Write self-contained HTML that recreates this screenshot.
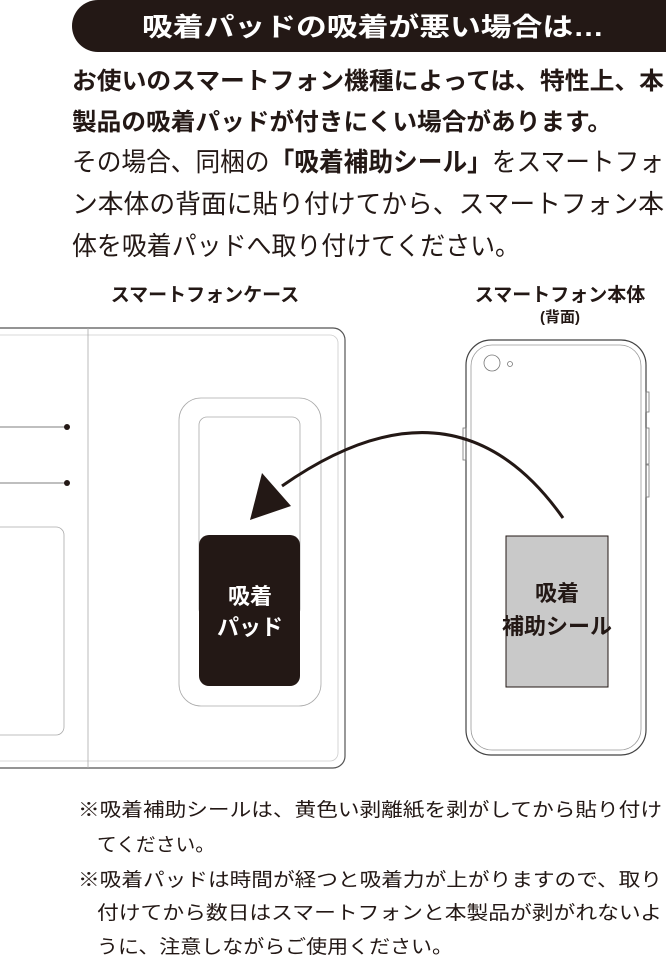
<!DOCTYPE html>
<html><head><meta charset="utf-8"><style>
html,body{margin:0;padding:0;background:#fff;}
svg{display:block;}
text{font-family:"Liberation Sans","Noto Sans CJK JP",sans-serif;fill:#231815;}
</style></head><body>
<svg width="666" height="959" viewBox="0 0 666 959" xmlns="http://www.w3.org/2000/svg">
<path d="M98,0 H680 V52 H98 A26,26 0 0 1 98,0 Z" fill="#231815"/>
<text x="142" y="36" font-size="26" font-weight="bold" style="fill:#fff" textLength="462" lengthAdjust="spacingAndGlyphs">吸着パッドの吸着が悪い場合は…</text>
<text x="72" y="89" font-size="24" font-weight="bold" textLength="592" lengthAdjust="spacingAndGlyphs">お使いのスマートフォン機種によっては、特性上、本</text>
<text x="72" y="130" font-size="24" font-weight="bold" textLength="540" lengthAdjust="spacingAndGlyphs">製品の吸着パッドが付きにくい場合があります。</text>
<text x="72" y="171" font-size="26" textLength="592" lengthAdjust="spacingAndGlyphs">その場合、同梱の<tspan font-weight="bold">「吸着補助シール」</tspan>をスマートフォ</text>
<text x="72" y="213" font-size="26" textLength="592" lengthAdjust="spacingAndGlyphs">ン本体の背面に貼り付けてから、スマートフォン本</text>
<text x="72" y="255" font-size="26" textLength="448" lengthAdjust="spacingAndGlyphs">体を吸着パッドへ取り付けてください。</text>
<text x="205" y="301" font-size="19" font-weight="bold" text-anchor="middle">スマートフォンケース</text>
<text x="560" y="301" font-size="19" font-weight="bold" text-anchor="middle">スマートフォン本体</text>
<text x="560" y="322" font-size="15" font-weight="bold" text-anchor="middle">(背面)</text>
<rect x="-20" y="328" width="365" height="440" rx="12" fill="none" stroke="#555" stroke-width="1.2"/>
<rect x="-20" y="335" width="358" height="426" rx="8" fill="none" stroke="#ccc" stroke-width="0.8"/>
<line x1="88" y1="328" x2="88" y2="768" stroke="#aaa" stroke-width="0.8"/>
<line x1="0" y1="427" x2="67" y2="427" stroke="#555" stroke-width="0.8"/>
<circle cx="67" cy="427" r="3" fill="#231815"/>
<line x1="0" y1="483" x2="67" y2="483" stroke="#555" stroke-width="0.8"/>
<circle cx="67" cy="483" r="3" fill="#231815"/>
<rect x="-20" y="527" width="84" height="208" rx="8" fill="none" stroke="#aaa" stroke-width="0.8"/>
<rect x="179" y="398" width="142" height="308" rx="22" fill="none" stroke="#aaa" stroke-width="0.8"/>
<rect x="199" y="417" width="101" height="200" rx="8" fill="none" stroke="#aaa" stroke-width="0.8"/>
<rect x="199" y="535" width="101" height="151" rx="10" fill="#231815"/>
<text x="250" y="604" font-size="22" font-weight="bold" text-anchor="middle" style="fill:#fff">吸着</text>
<text x="250" y="635" font-size="22" font-weight="bold" text-anchor="middle" style="fill:#fff">パッド</text>
<rect x="466" y="340" width="180" height="415" rx="25" fill="none" stroke="#444" stroke-width="1.2"/>
<rect x="471" y="345" width="170" height="405" rx="21" fill="none" stroke="#999" stroke-width="0.8"/>
<circle cx="492" cy="363" r="8" fill="none" stroke="#777" stroke-width="0.8"/>
<circle cx="510" cy="364" r="2.5" fill="none" stroke="#777" stroke-width="0.8"/>
<rect x="463" y="428" width="3" height="32" fill="none" stroke="#777" stroke-width="0.8"/>
<rect x="646" y="392" width="3" height="20" fill="none" stroke="#777" stroke-width="0.8"/>
<rect x="646" y="428" width="3" height="36" fill="none" stroke="#777" stroke-width="0.8"/>
<rect x="646" y="465" width="3" height="32" fill="none" stroke="#777" stroke-width="0.8"/>
<rect x="506" y="536" width="102" height="151" fill="#c9c9c9" stroke="#231815" stroke-width="1"/>
<text x="557" y="601" font-size="22" font-weight="bold" text-anchor="middle">吸着</text>
<text x="557" y="634" font-size="22" font-weight="bold" text-anchor="middle">補助シール</text>
<path d="M563,518 Q455,365 282,486" fill="none" stroke="#231815" stroke-width="3"/>
<polygon points="250,520 262,473 291,506" fill="#231815"/>
<text x="78" y="816" font-size="19" textLength="584" lengthAdjust="spacingAndGlyphs">※吸着補助シールは、黄色い剥離紙を剥がしてから貼り付け</text>
<text x="97" y="851" font-size="19" textLength="118" lengthAdjust="spacingAndGlyphs">てください。</text>
<text x="78" y="886" font-size="19" textLength="584" lengthAdjust="spacingAndGlyphs">※吸着パッドは時間が経つと吸着力が上がりますので、取り</text>
<text x="97" y="919" font-size="19" textLength="565" lengthAdjust="spacingAndGlyphs">付けてから数日はスマートフォンと本製品が剥がれないよ</text>
<text x="97" y="953" font-size="19" textLength="356" lengthAdjust="spacingAndGlyphs">うに、注意しながらご使用ください。</text>
</svg>
</body></html>
